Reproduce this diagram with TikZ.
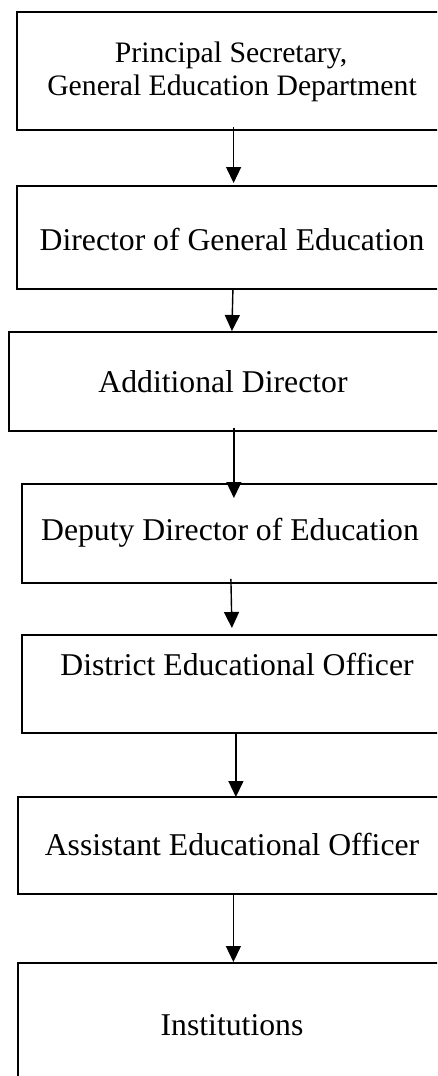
\documentclass[tikz,border=0pt]{standalone}
\usepackage{fontspec}
\setmainfont{Liberation Serif}
\usetikzlibrary{arrows.meta}
\tikzset{
  box/.style={draw=black, line width=1.8pt, rectangle, inner sep=0pt, anchor=north west},
  txt/.style={anchor=base, inner sep=0pt, font=\fontsize{31.7}{36}\selectfont},
  txtsmall/.style={anchor=base, inner sep=0pt, align=center, font=\fontsize{29.7}{33}\selectfont},
  arr/.style={line width=1.4pt, -{Triangle[width=15pt,length=16pt]}}
}
\begin{document}
\begin{tikzpicture}[x=1pt,y=1pt]
\useasboundingbox (0,0) rectangle (437,-1076);
\clip (0,0) rectangle (437,-1076);
\node[box, minimum width=434pt, minimum height=118pt] (b1) at (16,-11) {};
\node[box, minimum width=434pt, minimum height=103pt] (b2) at (16,-185) {};
\node[box, minimum width=442pt, minimum height=99pt] (b3) at (8,-331) {};
\node[box, minimum width=429pt, minimum height=99pt] (b4) at (21,-483) {};
\node[box, minimum width=429pt, minimum height=98pt] (b5) at (21,-634) {};
\node[box, minimum width=433pt, minimum height=97pt] (b6) at (17,-796) {};
\node[box, minimum width=433pt, minimum height=130pt] (b7) at (17,-962) {};
\node[txtsmall] (t1a) at (231,-62) {Principal Secretary,};
\node[txtsmall] (t1b) at (232,-95) {General Education Department};
\node[txt] (t2) at (232,-250) {Director of General Education};
\node[txt] (t3) at (223,-392) {Additional Director};
\node[txt] (t4) at (230,-540) {Deputy Director of Education};
\node[txt] (t5) at (237,-675) {District Educational Officer};
\node[txt] (t6) at (232,-855) {Assistant Educational Officer};
\node[txt] (t7) at (232,-1035) {Institutions};
\draw[arr] ([shift={(232.7-233,4)}]b1.south) -- ([shift={(232.7-233,2)}]b2.north);
\draw[arr] ([shift={(232-233,0)}]b2.south) -- ([shift={(235-233,0)}]b3.north);
\draw[arr] ([shift={(233-229,4)}]b3.south) -- ([shift={(233-235.5,-15)}]b4.north);
\draw[arr] ([shift={(230-235.5,5)}]b4.south) -- ([shift={(231-235.5,6)}]b5.north);
\draw[arr] ([shift={(235-235.5,0)}]b5.south) -- ([shift={(235-233.5,-1)}]b6.north);
\draw[arr] ([shift={(232.5-233.5,0)}]b6.south) -- ([shift={(232.5-233.5,0)}]b7.north);
\end{tikzpicture}
\end{document}
